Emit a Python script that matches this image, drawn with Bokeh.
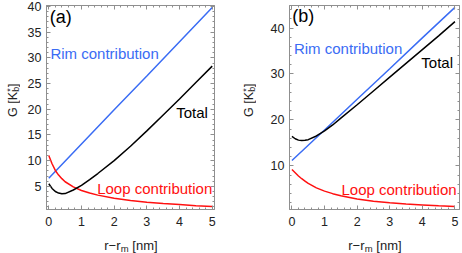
from bokeh.plotting import figure
from bokeh.layouts import row, column
from bokeh.models import Label, LinearAxis, FixedTicker, Range1d
from bokeh.embed import file_html
from bokeh.resources import INLINE
import math

# ---- data ----
x_pts = [0, 0.1, 0.2, 0.3, 0.4, 0.5, 0.75, 1.0, 1.25, 1.5, 2.0, 2.5, 3.0, 3.5, 4.0, 4.5, 5.0]
rim_x = [0, 1, 2, 3, 4, 5]

loop_a = [11.0, 9.4, 8.1, 7.2, 6.5, 5.9, 4.9, 4.2, 3.7, 3.3, 2.7, 2.25, 1.9, 1.65, 1.45, 1.25, 1.1]
total_a = [5.5, 4.6, 4.0, 3.7, 3.55, 3.6, 4.3, 5.2, 6.3, 7.5, 10.0, 12.8, 15.8, 18.9, 22.0, 25.2, 28.4]
rim_a = [6.6, 13.25, 19.9, 26.5, 33.15, 39.8]

loop_b = [9.2, 8.5, 7.8, 7.2, 6.7, 6.2, 5.2, 4.5, 3.95, 3.5, 2.8, 2.3, 1.95, 1.7, 1.5, 1.3, 1.15]
total_b = [16.4, 15.9, 15.6, 15.5, 15.55, 15.7, 16.5, 17.6, 18.9, 20.4, 23.3, 26.3, 29.3, 32.3, 35.3, 38.3, 41.4]
rim_b = [11.15, 17.8, 24.5, 31.15, 37.85, 44.5]

x_major = [0, 1, 2, 3, 4, 5]
ya_major = [5, 10, 15, 20, 25, 30, 35, 40]
yb_major = [10, 20, 30, 40]

FONT = "Liberation Sans"
FRAME = "#8f8f8f"
BLUE = "#3a6cf4"
RED = "#ff1010"
BLACK = "#000000"
TXT = "#222222"
H1 = 229   # height of the plot row
H2 = 24    # height of the x-title row
MB_TOP, MB_BOT = 5, 20


def minor(lo, hi, step):
    n = int(round((hi - lo) / step))
    return [round(lo + i * step, 6) for i in range(n + 1)]


def text_fig(w, h):
    f = figure(width=w, height=h, output_backend="svg", toolbar_location=None,
               x_range=Range1d(0, w), y_range=Range1d(0, h), min_border=0,
               x_axis_location=None, y_axis_location=None, outline_line_color=None)
    f.grid.visible = False
    return f


def make(width, mbl, mbr, xr, yr, ymaj, ymin_step, rim, loop, total, tag, tag_pos, rim_pos, tot_pos, loop_pos):
    p = figure(width=width, height=H1, output_backend="svg", toolbar_location=None,
               x_range=Range1d(*xr), y_range=Range1d(*yr),
               min_border_left=mbl, min_border_right=mbr,
               min_border_top=MB_TOP, min_border_bottom=MB_BOT,
               x_axis_location=None, y_axis_location=None)
    p.grid.visible = False
    p.outline_line_color = FRAME
    p.outline_line_width = 1
    xt = FixedTicker(ticks=x_major, minor_ticks=minor(0, 5, 0.2))
    yt = FixedTicker(ticks=ymaj, minor_ticks=minor(0, yr[1], ymin_step))
    for loc, ticker, show, ticks in [("below", xt, True, x_major), ("above", xt, False, x_major),
                                     ("left", yt, True, ymaj), ("right", yt, False, ymaj)]:
        ax = LinearAxis(ticker=ticker, axis_line_color=FRAME,
                        major_tick_line_color=FRAME, minor_tick_line_color=FRAME,
                        major_tick_in=4, major_tick_out=0, minor_tick_in=2, minor_tick_out=0,
                        major_label_text_font=FONT, major_label_text_font_size="12.5px",
                        major_label_text_color=TXT,
                        major_label_standoff=(7 if loc == "below" else 5) if show else 0)
        if not show:
            ax.major_label_overrides = {t: "" for t in ticks}
        p.add_layout(ax, loc)

    p.line(rim_x, rim, line_color=BLUE, line_width=1.5)
    p.line(x_pts, loop, line_color=RED, line_width=1.5)
    p.line(x_pts, total, line_color=BLACK, line_width=1.5)

    def lab(pos, text, color, size):
        p.add_layout(Label(x=pos[0], y=pos[1], text=text, text_color=color, text_font=FONT,
                           text_font_size=size, text_baseline="middle", text_align="left"))

    lab(tag_pos, tag, BLACK, "18px")
    lab(rim_pos, "Rim contribution", BLUE, "15px")
    lab(tot_pos, "Total", BLACK, "15px")
    lab(loop_pos, "Loop contribution", RED, "15px")
    return p


def put(f, x, y, text, size, angle=0.0, align="left"):
    f.add_layout(Label(x=x, y=y, text=text, text_font=FONT, text_font_size=size,
                       text_color=TXT, text_align=align, text_baseline="alphabetic", angle=angle))


def y_title(w, bx, center_up):
    f = text_fig(w, H1)
    fs, fss = 12.5, 9
    joint = center_up + 8.0
    a = math.pi / 2
    put(f, bx, joint, "G [K", f"{fs}px", a, "right")
    put(f, bx + 2.5, joint + 0.3, "b", f"{fss}px", a)
    put(f, bx - 3.0, joint + 0.3, "*", f"{fss}px", a)
    put(f, bx, joint + 5.6, "]", f"{fs}px", a)
    return f


def x_title(w, center_x, base_up):
    f = text_fig(w, H2)
    fs, fss = 13, 9.5
    joint = center_x - 10.0
    put(f, joint, base_up, "r\u2212r", f"{fs}px", 0.0, "right")
    put(f, joint + 0.3, base_up - 2.5, "m", f"{fss}px")
    put(f, joint + 11.8, base_up, "[nm]", f"{fs}px")
    return f


# panel (a): page x 20..236, frame 46..214 ; panel (b): page x 256..462, frame 289..459
pa = make(216, 26, 22, (-0.07, 5.07), (0.5, 40.2), ya_major, 1, rim_a, loop_a, total_a, "(a)",
          (0.03, 37.9), (0.05, 30.9), (3.9, 19.4), (1.48, 4.5))
pb = make(206, 33, 3, (-0.075, 5.14), (0.5, 44.9), yb_major, 2, rim_b, loop_b, total_b, "(b)",
          (0.01, 42.6), (0.06, 35.6), (3.97, 32.4), (1.52, 4.8))

ya_t = y_title(20, 12.5, H1 - 105)
yb_t = y_title(20, 12.5, H1 - 105)
xa_t = x_title(236, 130, 8)
xb_t = x_title(226, 374 - 236, 8)

layout = column(row(ya_t, pa, yb_t, pb), row(xa_t, xb_t))
open("out.html", "w").write(file_html(layout, INLINE))
